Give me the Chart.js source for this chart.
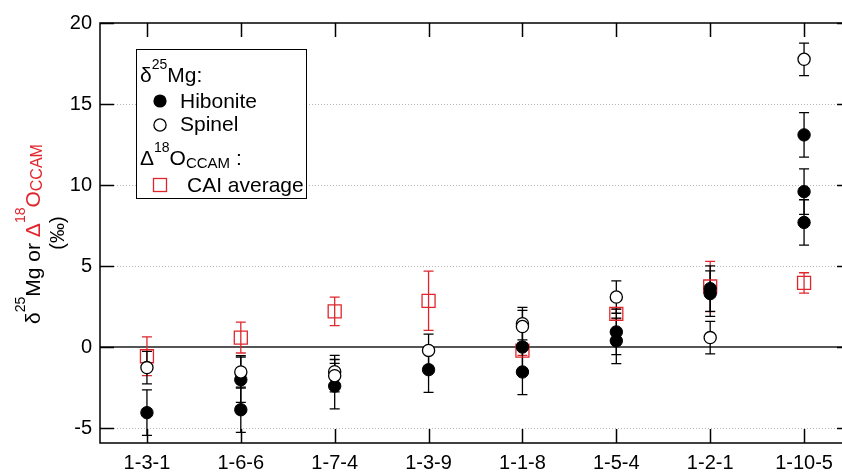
<!DOCTYPE html>
<html>
<head>
<meta charset="utf-8">
<script src="https://cdn.jsdelivr.net/npm/chart.js@4"></script>
<style>
html, body { margin: 0; padding: 0; overflow: hidden; background: #fff; }
#wrap { width: 851px; height: 473px; }
</style>
</head>
<body>
<div id="wrap"><canvas id="mgChart" width="851" height="473"></canvas></div>
<script>
const categories = ['1-3-1', '1-6-6', '1-7-4', '1-3-9', '1-1-8', '1-5-4', '1-2-1', '1-10-5'];
const yTicks = [-5, 0, 5, 10, 15, 20];

// delta25Mg, hibonite
const hiboniteSample = ['1-3-1', '1-6-6', '1-6-6', '1-7-4', '1-3-9', '1-1-8', '1-1-8', '1-5-4', '1-5-4', '1-2-1', '1-2-1', '1-10-5', '1-10-5', '1-10-5'];
const hiboniteValue = [-4.03, -2.0, -3.85, -2.39, -1.38, 0.02, -1.52, 0.95, 0.4, 3.62, 3.31, 13.1, 9.6, 7.7];
const hiboniteError = [1.4, 1.4, 1.4, 1.4, 1.4, 1.4, 1.4, 1.4, 1.4, 1.4, 1.4, 1.37, 1.4, 1.4];

// delta25Mg, spinel
const spinelSample = ['1-3-1', '1-6-6', '1-7-4', '1-7-4', '1-3-9', '1-1-8', '1-1-8', '1-5-4', '1-2-1', '1-10-5'];
const spinelValue = [-1.25, -1.52, -1.5, -1.75, -0.19, 1.46, 1.28, 3.1, 0.6, 17.76];
const spinelError = [1.0, 1.0, 1.0, 1.0, 1.0, 1.0, 1.0, 1.0, 1.0, 1.0];

// Delta18O CCAM, CAI average (one per category)
const caiValue = [-0.55, 0.6, 2.22, 2.87, -0.2, 2.06, 3.75, 3.97];
const caiError = [1.2, 0.95, 0.88, 1.83, 0.3, 0.3, 1.55, 0.63];

const FONT = "'Liberation Sans', Arial, sans-serif";
const RED = '#e0262c';

const toPoints = (samples, values) => samples.map((s, i) => ({ x: categories.indexOf(s), y: values[i] }));

// grid, zero line, inward ticks and box
const frame = {
    id: 'frame',
    beforeDatasetsDraw(chart) {
        const { ctx, chartArea: a, scales: { x, y } } = chart;
        ctx.save();
        ctx.strokeStyle = '#b4b4b4';
        ctx.lineWidth = 1;
        ctx.setLineDash([1, 2]);
        y.ticks.forEach(t => {
            if (t.value === 0 || t.value === 20) return;
            const py = Math.round(y.getPixelForValue(t.value)) + 0.5;
            ctx.beginPath();
            ctx.moveTo(a.left + 14, py);
            ctx.lineTo(a.right - 14, py);
            ctx.stroke();
        });
        ctx.setLineDash([]);

        const zy = Math.round(y.getPixelForValue(0));
        ctx.strokeStyle = '#555';
        ctx.lineWidth = 2;
        ctx.beginPath();
        ctx.moveTo(a.left, zy);
        ctx.lineTo(a.right, zy);
        ctx.stroke();

        ctx.strokeStyle = '#000';
        ctx.lineWidth = 1.5;
        ctx.beginPath();
        y.ticks.forEach(t => {
            const py = Math.round(y.getPixelForValue(t.value)) + 0.5;
            ctx.moveTo(a.left, py); ctx.lineTo(a.left + 14, py);
            ctx.moveTo(a.right - 14, py); ctx.lineTo(a.right, py);
        });
        x.ticks.forEach(t => {
            const px = Math.round(x.getPixelForValue(t.value)) + 0.5;
            ctx.moveTo(px, a.bottom); ctx.lineTo(px, a.bottom - 14);
            ctx.moveTo(px, a.top); ctx.lineTo(px, a.top + 14);
        });
        ctx.stroke();
        ctx.strokeRect(a.left, a.top, a.right - a.left, a.bottom - a.top);
        ctx.restore();
    }
};

const errorBars = {
    id: 'errorBars',
    beforeDatasetsDraw(chart) {
        const { ctx, scales: { x, y } } = chart;
        ctx.save();
        ctx.lineWidth = 1.3;
        chart.data.datasets.slice().reverse().forEach(ds => {
            ctx.strokeStyle = ds.errColor;
            ds.data.forEach((p, i) => {
                const px = x.getPixelForValue(p.x);
                const top = y.getPixelForValue(p.y + ds.errors[i]);
                const bot = y.getPixelForValue(p.y - ds.errors[i]);
                ctx.beginPath();
                ctx.moveTo(px, top); ctx.lineTo(px, bot);
                ctx.moveTo(px - 5, top); ctx.lineTo(px + 5, top);
                ctx.moveTo(px - 5, bot); ctx.lineTo(px + 5, bot);
                ctx.stroke();
            });
        });
        ctx.restore();
    }
};

function drawRuns(ctx, runs, x, y) {
    runs.forEach(r => {
        ctx.font = r.size + 'px ' + FONT;
        ctx.fillStyle = r.color || '#000';
        ctx.fillText(r.text, x, y + (r.dy || 0));
        x += ctx.measureText(r.text).width;
    });
}

function runsWidth(ctx, runs) {
    return runs.reduce((w, r) => {
        ctx.font = r.size + 'px ' + FONT;
        return w + ctx.measureText(r.text).width;
    }, 0);
}

// legend box and the y axis title
const decor = {
    id: 'decor',
    afterDraw(chart) {
        const ctx = chart.ctx;
        ctx.save();
        ctx.textBaseline = 'alphabetic';
        ctx.textAlign = 'left';

        ctx.fillStyle = '#fff';
        ctx.fillRect(136, 49.5, 171, 149);
        ctx.strokeStyle = '#000';
        ctx.lineWidth = 1;
        ctx.strokeRect(136.5, 49.5, 170, 149);

        drawRuns(ctx, [{ text: 'δ', size: 21 }, { text: '25', size: 14, dy: -13 }, { text: 'Mg:', size: 21 }], 140, 82);
        drawRuns(ctx, [{ text: 'Hibonite', size: 21 }], 180, 107.5);
        drawRuns(ctx, [{ text: 'Spinel', size: 21 }], 180, 131);
        drawRuns(ctx, [{ text: 'Δ', size: 21 }, { text: '18', size: 14, dy: -13 }, { text: 'O', size: 21 },
            { text: 'CCAM', size: 15, dy: 3 }, { text: ' :', size: 21 }], 140, 165);
        drawRuns(ctx, [{ text: 'CAI average', size: 21 }], 187, 192);

        ctx.fillStyle = '#000';
        ctx.beginPath(); ctx.arc(160, 101, 6.6, 0, Math.PI * 2); ctx.fill();
        ctx.lineWidth = 1.3;
        ctx.beginPath(); ctx.arc(160, 125, 6.1, 0, Math.PI * 2); ctx.stroke();
        ctx.strokeStyle = RED;
        ctx.strokeRect(153.5, 178.5, 13, 13);

        const title = [
            { text: 'δ', size: 21 }, { text: '25', size: 14, dy: -15 }, { text: 'Mg or ', size: 21 },
            { text: 'Δ', size: 21, color: RED }, { text: '18', size: 14, dy: -15, color: RED },
            { text: 'O', size: 21, color: RED }, { text: 'CCAM', size: 16, dy: 2, color: RED }
        ];
        ctx.save();
        ctx.translate(39.5, 234);
        ctx.rotate(-Math.PI / 2);
        drawRuns(ctx, title, -runsWidth(ctx, title) / 2, 0);
        ctx.restore();

        ctx.save();
        ctx.translate(64, 233);
        ctx.rotate(-Math.PI / 2);
        ctx.font = '20px ' + FONT;
        ctx.fillStyle = '#000';
        ctx.textAlign = 'center';
        ctx.fillText('(‰)', 0, 0);
        ctx.restore();

        ctx.restore();
    }
};

const ctx = document.getElementById('mgChart').getContext('2d');

new Chart(ctx, {
    type: 'scatter',
    data: {
        datasets: [{
            label: 'Spinel',
            data: toPoints(spinelSample, spinelValue),
            errors: spinelError,
            errColor: '#000',
            pointStyle: 'circle',
            pointRadius: 6.1,
            pointBackgroundColor: '#fff',
            pointBorderColor: '#000',
            pointBorderWidth: 1.3,
            order: 0
        }, {
            label: 'Hibonite',
            data: toPoints(hiboniteSample, hiboniteValue),
            errors: hiboniteError,
            errColor: '#000',
            pointStyle: 'circle',
            pointRadius: 6.2,
            pointBackgroundColor: '#000',
            pointBorderColor: '#000',
            pointBorderWidth: 1,
            order: 1
        }, {
            label: 'CAI average',
            data: toPoints(categories, caiValue),
            errors: caiError,
            errColor: RED,
            pointStyle: 'rect',
            pointRadius: 9.2,
            pointBackgroundColor: 'rgba(0,0,0,0)',
            pointBorderColor: RED,
            pointBorderWidth: 1.3,
            order: 2
        }]
    },
    options: {
        responsive: false,
        animation: false,
        events: [],
        layout: {
            autoPadding: false,
            padding: { top: 23, right: 0, bottom: 0, left: 0 }
        },
        plugins: {
            legend: { display: false },
            tooltip: { enabled: false }
        },
        scales: {
            x: {
                type: 'linear',
                min: -0.5,
                max: 7.5,
                afterFit: s => { s.height = 30; },
                afterBuildTicks: s => { s.ticks = categories.map((c, i) => ({ value: i })); },
                ticks: {
                    callback: v => categories[v],
                    color: '#000',
                    autoSkip: false,
                    maxRotation: 0,
                    padding: 8,
                    font: { family: FONT, size: 20 }
                },
                grid: { display: false, drawTicks: false },
                border: { display: false }
            },
            y: {
                min: -5.9,
                max: 20,
                afterFit: s => { s.width = 100; },
                afterBuildTicks: s => { s.ticks = yTicks.map(v => ({ value: v })); },
                ticks: {
                    callback: v => String(v),
                    color: '#000',
                    padding: 8,
                    font: { family: FONT, size: 20 }
                },
                grid: { display: false, drawTicks: false },
                border: { display: false }
            }
        }
    },
    plugins: [frame, errorBars, decor]
});
</script>
</body>
</html>
